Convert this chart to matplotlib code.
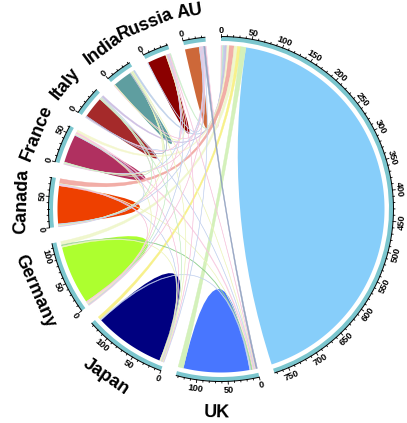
import numpy as np
import matplotlib
matplotlib.use("Agg")
import matplotlib.pyplot as plt
from matplotlib.path import Path
from matplotlib.patches import PathPatch, Wedge

# ---------------- data ----------------
sectors = ["USA", "UK", "Japan", "Germany", "Canada", "France", "Italy", "India", "Russia", "AU"]
sector_colors = ["#87CEFA", "#4876FF", "#000080", "#ADFF2F", "#EE4000",
                 "#B03060", "#A52A2A", "#5F9EA0", "#8B0000", "#CD6839"]
self_flow = [366, 56, 60, 50, 32, 24, 18, 16, 16, 12]

link_from = [0, 0, 0, 0, 0, 0, 0, 0, 0,
             1, 1, 1, 1, 1, 1, 1, 1,
             2, 2, 2, 2, 2, 2, 2,
             3, 3, 3, 3, 3, 3,
             4, 4, 4, 4, 4,
             5, 5, 5, 5,
             6, 6, 6,
             7, 7,
             8]
link_to = [9, 8, 7, 6, 5, 4, 3, 2, 1,
           9, 8, 7, 6, 5, 4, 3, 2,
           9, 8, 7, 6, 5, 4, 3,
           9, 8, 7, 6, 5, 4,
           9, 8, 7, 6, 5,
           9, 8, 7, 6,
           9, 8, 7,
           9, 8,
           9]
link_value = [2, 2, 3, 3, 4, 8, 6, 5, 9,
              3, 1, 1, 1, 2, 1, 2, 2,
              1, 1, 1, 1, 1, 1, 2,
              1, 1, 1, 1, 2, 2,
              1, 1, 1, 1, 1,
              1, 1, 1, 1,
              1, 1, 1,
              1, 1,
              1]
link_colors = ["#F7C6DE", "#C8EDC8", "#B8CCE8", "#C8B8E0", "#F3F6C8", "#F0A098", "#EEF6C6", "#F7EF78", "#CDEFB0",
               "#8899BB", "#F7C6DE", "#EEF5C0", "#C6D4F0", "#F7C6DE", "#EEF5C0", "#90D090", "#C6D4F0",
               "#C6D4F0", "#F7C6DE", "#EEF5C0", "#C8EDC8", "#F7C6DE", "#C6D4F0", "#EEF5C0",
               "#F7C6DE", "#C6D4F0", "#C8EDC8", "#F7C6DE", "#EEF5C0", "#F7C6DE",
               "#C6D4F0", "#F7C6DE", "#EEF5C0", "#C8EDC8", "#C6D4F0",
               "#F7C6DE", "#C6D4F0", "#EEF5C0", "#C8EDC8",
               "#C6D4F0", "#F7C6DE", "#A8B4D0",
               "#F7C6DE", "#EEF5C0",
               "#C6D4F0"]

# ---------------- layout ----------------
n = len(sectors)
gap = 5.2
start_degree = 90.0
R_link = 163.5
R_in, R_out = 168.0, 172.5
ring_color = "#7BC6CE"

totals = [2 * self_flow[i] for i in range(n)]
for a, b, v in zip(link_from, link_to, link_value):
    totals[a] += v
    totals[b] += v
k = (360.0 - n * gap) / sum(totals)
starts = []
s = start_degree
for i in range(n):
    starts.append(s)
    s -= totals[i] * k + gap

def ang(i, pos):
    return starts[i] - pos * k

ends = {}
for i in range(n):
    pos = 0.0
    for j in range(n - 1, -1, -1):
        if j == i:
            ends[(i, "self")] = (pos, pos + 2 * self_flow[i])
            pos += 2 * self_flow[i]
            continue
        for lid, (a, b, v) in enumerate(zip(link_from, link_to, link_value)):
            if (a == i and b == j) or (b == i and a == j):
                ends[(i, lid)] = (pos, pos + v)
                pos += v

def pt(theta, r):
    t = np.radians(theta)
    return (r * np.cos(t), r * np.sin(t))

def arc(t1, t2, r):
    m = max(2, int(abs(t2 - t1) * 3) + 2)
    th = np.radians(np.linspace(t1, t2, m))
    return list(zip(r * np.cos(th), r * np.sin(th)))

def ribbon(ta1, ta2, tb1, tb2):
    verts, codes = [], []
    A = arc(ta1, ta2, R_link)
    verts += A
    codes += [Path.MOVETO] + [Path.LINETO] * (len(A) - 1)
    verts += [(0, 0), pt(tb1, R_link)]
    codes += [Path.CURVE3, Path.CURVE3]
    B = arc(tb1, tb2, R_link)
    verts += B[1:]
    codes += [Path.LINETO] * (len(B) - 1)
    verts += [(0, 0), A[0]]
    codes += [Path.CURVE3, Path.CURVE3]
    return Path(verts, codes)

fig = plt.figure(figsize=(4.07, 4.23), dpi=100)
ax = fig.add_axes([0, 0, 1, 1])
ax.set_xlim(-221, 186)
ax.set_ylim(-214, 209)
ax.axis("off")

for i in range(n):
    p0, p1 = ends[(i, "self")]
    half = (p0 + p1) / 2
    path = ribbon(ang(i, p0), ang(i, half), ang(i, half), ang(i, p1))
    ax.add_patch(PathPatch(path, facecolor=sector_colors[i], edgecolor="none", zorder=2))

for lid, (a, b, v) in enumerate(zip(link_from, link_to, link_value)):
    pa = ends[(a, lid)]
    pb = ends[(b, lid)]
    path = ribbon(ang(a, pa[0]), ang(a, pa[1]), ang(b, pb[0]), ang(b, pb[1]))
    ax.add_patch(PathPatch(path, facecolor=link_colors[lid], edgecolor=link_colors[lid],
                           lw=0.3, alpha=0.85, zorder=3))

def rot_for(theta):
    r = theta - 90
    r = (r + 180) % 360 - 180
    flipped = False
    if r > 90:
        r -= 180
        flipped = True
    elif r <= -90:
        r += 180
        flipped = True
    return r, flipped

for i in range(n):
    t1 = ang(i, totals[i])
    t2 = ang(i, 0)
    ax.add_patch(Wedge((0, 0), R_out, t1, t2, width=R_out - R_in,
                       facecolor=ring_color, edgecolor="none", zorder=4))
    xs, ys = zip(*arc(t1, t2, R_out))
    ax.plot(xs, ys, color="black", lw=0.7, zorder=5, solid_capstyle="butt")
    for v in range(0, int(totals[i]) + 1, 10):
        th = ang(i, v)
        L = 2.8 if v % 50 == 0 else 1.5
        x0, y0 = pt(th, R_out)
        x1, y1 = pt(th, R_out + L)
        ax.plot([x0, x1], [y0, y1], color="black", lw=0.6, zorder=5)
        if v % 50 == 0:
            rot, fl = rot_for(th)
            x, y = pt(th, R_out + 4.0)
            ax.text(x, y, str(v), rotation=rot, rotation_mode="anchor",
                    ha="center", va="top" if fl else "baseline",
                    fontsize=6.6, fontweight="bold", family="Liberation Sans", zorder=6)
    if i == 0:
        continue
    mid = ang(i, totals[i] / 2)
    rot, fl = rot_for(mid)
    x, y = pt(mid, 195)
    ax.text(x, y, sectors[i], rotation=rot, rotation_mode="anchor",
            ha="center", va="top" if fl else "baseline",
            fontsize=13, fontweight="bold", family="Liberation Sans", zorder=6)

fig.savefig("out.png", dpi=100)
